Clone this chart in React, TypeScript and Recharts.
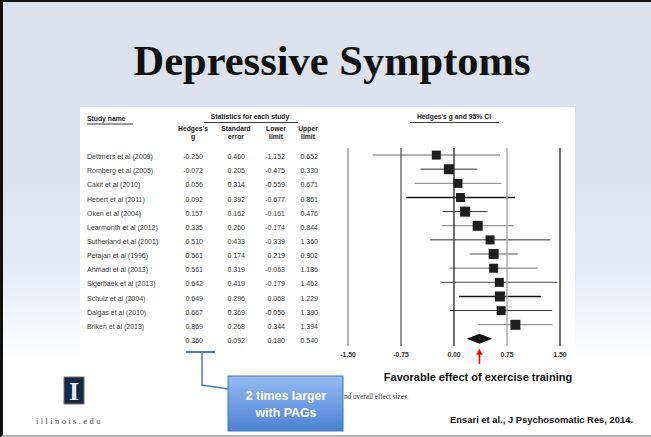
import React from "react";
import { ComposedChart, XAxis, YAxis, Bar, Line, ReferenceLine } from "recharts";

// Per-study statistics (Hedges's g with standard error and 95% limits)
const studies = [
  "Dettmers et al (2009)",
  "Romberg et al (2005)",
  "Cakit et al (2010)",
  "Hebert et al (2011)",
  "Oken et al (2004)",
  "Learmonth et al (2012)",
  "Sutherland et al (2001)",
  "Petajan et al (1996)",
  "Ahmadi et al (2013)",
  "Skjerbaek et al (2013)",
  "Schulz et al (2004)",
  "Dalgas et al (2010)",
  "Briken et al (2013)",
];
const hedgesG = [-0.25, -0.072, 0.056, 0.092, 0.157, 0.335, 0.51, 0.561, 0.561, 0.642, 0.649, 0.667, 0.869];
const stdError = [0.46, 0.205, 0.314, 0.392, 0.162, 0.26, 0.433, 0.174, 0.319, 0.419, 0.296, 0.369, 0.268];
const lowerLimit = [-1.152, -0.475, -0.559, -0.677, -0.161, -0.174, -0.339, 0.219, -0.063, -0.179, 0.068, -0.056, 0.344];
const upperLimit = [0.652, 0.33, 0.671, 0.861, 0.476, 0.844, 1.36, 0.902, 1.186, 1.462, 1.229, 1.39, 1.394];

// Pooled effect: g, standard error, lower, upper
const overall = { g: 0.36, se: 0.092, lower: 0.18, upper: 0.54 };

const axisTicks = [-1.5, -0.75, 0, 0.75, 1.5];
const columnHeaders = [
  ["Hedges's", "g"],
  ["Standard", "error"],
  ["Lower", "limit"],
  ["Upper", "limit"],
];

// Styling
const ciStroke = ["#9a9a9a", "#333", "#9a9a9a", "#111", "#333", "#9a9a9a", "#333", "#555", "#8a8a8a", "#444", "#111", "#333", "#9a9a9a"];
const ciWidth = [1.3, 1, 1.3, 1.4, 1, 1.3, 1, 1.1, 1.3, 1, 1.4, 1, 1.3];
const gridStroke = ["#8c8c8c", "#555", "#222", "#a0a0a0", "#222"];
const nameLeft = 87;
const valueRight = [203, 245, 285, 318];
const headerCenter = [193, 236, 276, 308];

type Row = {
  name: string;
  kind: "study" | "overall";
  g: number;
  se: number;
  lower: number;
  upper: number;
  ci: [number, number];
};

const rows: Row[] = [
  ...studies.map((name, i) => ({
    name,
    kind: "study" as const,
    g: hedgesG[i],
    se: stdError[i],
    lower: lowerLimit[i],
    upper: upperLimit[i],
    ci: [lowerLimit[i], upperLimit[i]] as [number, number],
  })),
  {
    name: "Overall",
    kind: "overall",
    g: overall.g,
    se: overall.se,
    lower: overall.lower,
    upper: overall.upper,
    ci: [overall.lower, overall.upper],
  },
];

const sans = "'Liberation Sans', Arial, Helvetica, sans-serif";
const fmt = (v: number) => v.toFixed(3);

// Left-hand table drawn as the category axis ticks, one row per study
const TableTick = (props: any) => {
  const { y, payload } = props;
  const row = rows.find((r) => r.name === payload.value);
  if (!row) return null;
  const vals = [row.g, row.se, row.lower, row.upper];
  const ty = y + 2.2;
  return (
    <g fontFamily={sans} fontSize={7} fill="#3a3a3a">
      {row.kind === "study" && (
        <text x={nameLeft} y={ty} dominantBaseline="middle" textAnchor="start">
          {row.name}
        </text>
      )}
      {vals.map((v, i) => (
        <text key={i} x={valueRight[i]} y={ty} dominantBaseline="middle" textAnchor="end">
          {fmt(v)}
        </text>
      ))}
    </g>
  );
};

// Confidence interval line, or the pooled diamond with its pointer
const IntervalShape = (props: any) => {
  const { x, y, width, height, payload, index } = props;
  const cy = y + height / 2;
  if (payload.kind === "overall") {
    const cx = x + width / 2;
    return (
      <g>
        <polygon
          points={`${x},${cy} ${cx},${cy - 5} ${x + width},${cy} ${cx},${cy + 5}`}
          fill="#111"
        />
        <line x1={cx} y1={cy + 25} x2={cx} y2={cy + 13} stroke="#ff0000" strokeWidth={1.6} />
        <polygon points={`${cx - 3.2},${cy + 16} ${cx},${cy + 10} ${cx + 3.2},${cy + 16}`} fill="#ff0000" />
      </g>
    );
  }
  return (
    <line x1={x} y1={cy} x2={x + width} y2={cy} stroke={ciStroke[index]} strokeWidth={ciWidth[index]} />
  );
};

// Study point estimate as a filled square
const SquareDot = (props: any) => {
  const { cx, cy, payload, index } = props;
  if (payload.kind === "overall" || cx == null) return <g key={`d${index}`} />;
  const s = payload.se < 0.3 ? 10 : 9;
  return <rect key={`d${index}`} x={cx - s / 2} y={cy - s / 2} width={s} height={s} fill="#1e1e1e" />;
};

export default function App() {
  return (
    <div
      style={{
        position: "absolute",
        left: 0,
        top: 0,
        width: 651,
        height: 437,
        overflow: "hidden",
        background: "#ffffff",
      }}
    >
      {/* slide background */}
      <div
        style={{
          position: "absolute",
          left: 0,
          top: 0,
          width: 651,
          height: 437,
          boxSizing: "border-box",
          borderLeft: "3px solid #111",
          borderTop: "2px solid #111",
          borderBottom: "2px solid #b5b5b5",
          background:
            "linear-gradient(to bottom, #dbe1ed 0%, #dde3ee 40%, #e6eaf3 62%, #f6f8fb 76%, #ffffff 83%, #ffffff 100%)",
        }}
      />
      {/* figure panel */}
      <div style={{ position: "absolute", left: 80, top: 107, width: 495, height: 254, background: "#ffffff" }} />

      <div
        style={{
          position: "absolute",
          left: 0,
          top: 38,
          width: 664,
          textAlign: "center",
          fontFamily: "'Liberation Serif', 'Times New Roman', serif",
          fontWeight: 700,
          fontSize: 42.5,
          lineHeight: "46px",
          color: "#111",
        }}
      >
        Depressive Symptoms
      </div>

      <div style={{ position: "absolute", left: 0, top: 0 }}>
        <ComposedChart
          width={651}
          height={437}
          layout="vertical"
          data={rows}
          margin={{ top: 148, right: 91, bottom: 61, left: 0 }}
          barCategoryGap={0}
        >
          <XAxis
            type="number"
            domain={[-1.5, 1.5]}
            ticks={axisTicks}
            tickFormatter={(v: number) => v.toFixed(2)}
            axisLine={false}
            tickLine={false}
            tickSize={4}
            tickMargin={2}
            height={30}
            tick={{ fontFamily: sans, fontSize: 6.8, fontWeight: 700, fill: "#333" }}
          />
          <YAxis
            type="category"
            dataKey="name"
            width={348}
            axisLine={false}
            tickLine={false}
            interval={0}
            tick={<TableTick />}
          />
          {axisTicks.map((t, i) => (
            <ReferenceLine key={t} x={t} stroke={gridStroke[i]} strokeWidth={1.3} ifOverflow="extendDomain" />
          ))}
          <Bar dataKey="ci" barSize={10} shape={<IntervalShape />} isAnimationActive={false} />
          <Line
            dataKey="g"
            stroke="none"
            dot={(p: any) => <SquareDot {...p} />}
            activeDot={false}
            isAnimationActive={false}
          />
        </ComposedChart>
      </div>

      {/* headers, annotations and footer */}
      <svg width={651} height={437} style={{ position: "absolute", left: 0, top: 0, pointerEvents: "none" }}>
        <g fontFamily={sans} fontWeight={700} fontSize={6.8} fill="#222">
          <text x={nameLeft} y={121}>Study name</text>
          <line x1={nameLeft} y1={124} x2={nameLeft + 46} y2={124} stroke="#222" strokeWidth={0.9} />
          <text x={250} y={119} textAnchor="middle">Statistics for each study</text>
          <line x1={204} y1={122.5} x2={298} y2={122.5} stroke="#222" strokeWidth={0.9} />
          {columnHeaders.map((h, i) => (
            <g key={i}>
              <text x={headerCenter[i]} y={131} textAnchor="middle">{h[0]}</text>
              <text x={headerCenter[i]} y={139} textAnchor="middle">{h[1]}</text>
            </g>
          ))}
          <text x={454} y={119} textAnchor="middle">Hedges's g and 95% CI</text>
          <line x1={410} y1={122.5} x2={499} y2={122.5} stroke="#222" strokeWidth={0.9} />
        </g>

        {/* highlight of the pooled effect */}
        <line x1={186} y1={352} x2={215} y2={352} stroke="#4a7ebb" strokeWidth={2} />
        <polyline points="202,353 202,385 228,389" fill="none" stroke="#4a7ebb" strokeWidth={1.5} />

        <text x={344} y={399} fontFamily="'Liberation Serif', serif" fontSize={7.2} fill="#333">
          nd overall effect sizes.
        </text>

        <defs>
          <linearGradient id="calloutFill" x1="0" y1="0" x2="0" y2="1">
            <stop offset="0%" stopColor="#94bbf3" />
            <stop offset="100%" stopColor="#4c82d3" />
          </linearGradient>
        </defs>
        <rect x={228} y={376} width={115} height={55} fill="url(#calloutFill)" stroke="#4577bd" strokeWidth={1} />
        <g fontFamily={sans} fontWeight={700} fontSize={12.4} fill="#ffffff" textAnchor="middle">
          <text x={286} y={400}>2 times larger</text>
          <text x={286} y={417}>with PAGs</text>
        </g>

        <text x={478} y={381} textAnchor="middle" fontFamily={sans} fontWeight={700} fontSize={11} fill="#111">
          Favorable effect of exercise training
        </text>
        <text x={633} y={422.5} textAnchor="end" fontFamily={sans} fontWeight={700} fontSize={9.4} fill="#111">
          Ensari et al., J Psychosomatic Res, 2014.
        </text>

        {/* university mark */}
        <rect x={64} y={377} width={20} height={27} fill="#13294b" stroke="#8a6a55" strokeWidth={1} />
        <text x={74} y={400} textAnchor="middle" fontFamily="'Liberation Serif', serif" fontWeight={700} fontSize={26} fill="#e8ecf2">
          I
        </text>
        <text x={36} y={424} fontFamily="'Liberation Serif', serif" fontSize={8.5} letterSpacing={2.4} fill="#555">
          illinois.edu
        </text>
      </svg>
    </div>
  );
}
